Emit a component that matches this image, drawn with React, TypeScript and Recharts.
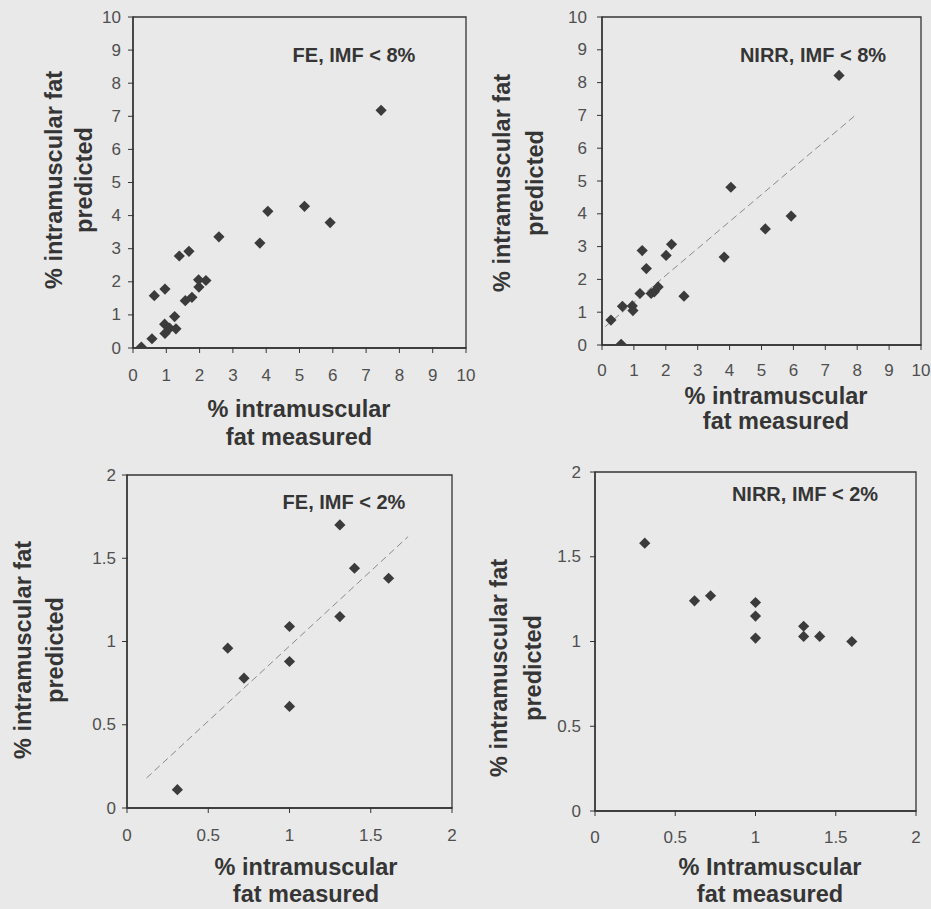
import React from 'react';
import { ScatterChart, Scatter, XAxis, YAxis, ReferenceArea, ReferenceLine } from 'recharts';

// ---------- data ----------
// Panel: FE, IMF < 8%
const fe8Measured = [0.25, 0.57, 0.64, 0.96, 0.95, 0.96, 1.1, 1.25, 1.29, 1.39, 1.68, 1.57, 1.77, 1.98, 1.97, 2.19, 2.58, 3.81, 4.05, 5.15, 5.92, 7.45];
const fe8Predicted = [0.03, 0.28, 1.58, 1.78, 0.72, 0.44, 0.6, 0.95, 0.58, 2.78, 2.92, 1.43, 1.53, 1.84, 2.06, 2.04, 3.36, 3.17, 4.13, 4.28, 3.79, 7.18];

// Panel: NIRR, IMF < 8%
const nirr8Measured = [0.28, 0.6, 0.64, 0.95, 0.97, 1.26, 1.39, 1.19, 1.54, 1.64, 1.76, 2.01, 2.18, 2.57, 3.83, 4.04, 5.12, 5.93, 7.43];
const nirr8Predicted = [0.76, 0.02, 1.18, 1.19, 1.05, 2.88, 2.33, 1.57, 1.57, 1.62, 1.77, 2.73, 3.07, 1.49, 2.68, 4.81, 3.54, 3.93, 8.22];
const nirr8TrendX = [0.1, 8.0];
const nirr8TrendY = [0.56, 7.05];

// Panel: FE, IMF < 2%
const fe2Measured = [0.31, 0.62, 0.72, 1.0, 1.0, 1.0, 1.31, 1.31, 1.4, 1.61];
const fe2Predicted = [0.11, 0.96, 0.78, 1.09, 0.88, 0.61, 1.7, 1.15, 1.44, 1.38];
const fe2TrendX = [0.12, 1.73];
const fe2TrendY = [0.18, 1.63];

// Panel: NIRR, IMF < 2%
const nirr2Measured = [0.31, 0.62, 0.72, 1.0, 1.0, 1.0, 1.3, 1.3, 1.4, 1.6];
const nirr2Predicted = [1.58, 1.24, 1.27, 1.23, 1.15, 1.02, 1.09, 1.03, 1.03, 1.0];

// ticks
const ticks10 = [0, 1, 2, 3, 4, 5, 6, 7, 8, 9, 10];
const ticks2 = [0, 0.5, 1, 1.5, 2];

// titles
const panelTitles = ['FE, IMF < 8%', 'NIRR, IMF < 8%', 'FE, IMF < 2%', 'NIRR, IMF < 2%'];
const yTitleLines = ['% intramuscular fat', 'predicted'];
const xTitleLines = ['% intramuscular', 'fat measured'];
const xTitleLines4 = ['% Intramuscular', 'fat measured'];

const zip = (xs: number[], ys: number[]) => xs.map((x, i) => ({ x, y: ys[i] }));

// ---------- styling ----------
const FONT = '"Liberation Sans", Arial, Helvetica, sans-serif';
const INK = '#353535';
const TICK_INK = '#4f4f4f';
const BG = '#e9e9e9';

const Diamond = (props: any) => {
  const { cx, cy } = props;
  if (cx == null || cy == null) return null;
  const r = 5.6;
  return (
    <polygon
      points={`${cx},${cy - r} ${cx + r},${cy} ${cx},${cy + r} ${cx - r},${cy}`}
      fill="#3b3b3b"
    />
  );
};

const XTick = (props: any) => {
  const { x, y, payload, gap } = props;
  return (
    <g>
      <line x1={x} x2={x} y1={y - 3} y2={y + 3} stroke={INK} strokeWidth={1} />
      <text x={x} y={y + gap} textAnchor="middle" dominantBaseline="central" fontFamily={FONT} fontSize={17} fill={TICK_INK}>
        {String(payload.value)}
      </text>
    </g>
  );
};

const YTick = (props: any) => {
  const { x, y, payload, gap } = props;
  return (
    <g>
      <line x1={x - 3} x2={x + 3} y1={y} y2={y} stroke={INK} strokeWidth={1} />
      <text x={x - gap} y={y} textAnchor="end" dominantBaseline="central" fontFamily={FONT} fontSize={17} fill={TICK_INK}>
        {String(payload.value)}
      </text>
    </g>
  );
};

type PanelProps = {
  left: number; top: number; w: number; h: number;
  data: { x: number; y: number }[];
  domain: [number, number];
  ticks: number[];
  trend?: { x: number; y: number }[];
  xGap: number; yGap: number;
};

const ML = 70, MT = 10, MR = 10, XH = 40;

function Panel({ left, top, w, h, data, domain, ticks, trend, xGap, yGap }: PanelProps) {
  return (
    <div style={{ position: 'absolute', left: left - ML, top: top - MT }}>
      <ScatterChart width={w + ML + MR} height={h + MT + XH} margin={{ top: MT, right: MR, left: 0, bottom: 0 }}>
        <XAxis
          type="number" dataKey="x" domain={domain} ticks={ticks} interval={0} height={XH}
          tickSize={0} tickLine={false} allowDataOverflow
          axisLine={{ stroke: INK, strokeWidth: 1.4 }}
          tick={(p: any) => <XTick {...p} gap={xGap} />}
        />
        <YAxis
          type="number" dataKey="y" domain={domain} ticks={ticks} interval={0} width={ML}
          tickSize={0} tickLine={false} allowDataOverflow
          axisLine={{ stroke: INK, strokeWidth: 1.4 }}
          tick={(p: any) => <YTick {...p} gap={yGap} />}
        />
        <ReferenceArea x1={domain[0]} x2={domain[1]} y1={domain[0]} y2={domain[1]} fill="none" stroke={INK} strokeWidth={1.3} />
        {trend ? (
          <ReferenceLine segment={trend} stroke="#8a8a8a" strokeWidth={1} strokeDasharray="7 4" />
        ) : null}
        <Scatter data={data} shape={Diamond} isAnimationActive={false} />
      </ScatterChart>
    </div>
  );
}

function YTitle({ x, y, pitch }: { x: number; y: number; pitch: number }) {
  return (
    <g>
      {yTitleLines.map((t, i) => (
        <text key={i} transform={`translate(${x + i * pitch},${y}) rotate(-90)`} textAnchor="middle"
          fontFamily={FONT} fontWeight="bold" fontSize={23.5} fill={INK}>{t}</text>
      ))}
    </g>
  );
}

function XTitle({ x, y, pitch, lines }: { x: number; y: number; pitch: number; lines: string[] }) {
  return (
    <g>
      {lines.map((t, i) => (
        <text key={i} x={x} y={y + i * pitch} textAnchor="middle"
          fontFamily={FONT} fontWeight="bold" fontSize={23.5} fill={INK}>{t}</text>
      ))}
    </g>
  );
}

function PTitle({ x, y, text }: { x: number; y: number; text: string }) {
  return (
    <text x={x} y={y} textAnchor="middle" fontFamily={FONT} fontWeight="bold" fontSize={20} fill={INK}>{text}</text>
  );
}

export default function App() {
  return (
    <div style={{ position: 'absolute', left: 0, top: 0, width: 931, height: 909, background: BG, overflow: 'hidden' }}>
      <Panel left={133} top={17} w={333} h={331} data={zip(fe8Measured, fe8Predicted)} domain={[0, 10]} ticks={ticks10} xGap={25} yGap={10} />
      <Panel left={602} top={17} w={319} h={328} data={zip(nirr8Measured, nirr8Predicted)} domain={[0, 10]} ticks={ticks10}
        trend={zip(nirr8TrendX, nirr8TrendY)} xGap={23} yGap={13} />
      <Panel left={127} top={475} w={325} h={333} data={zip(fe2Measured, fe2Predicted)} domain={[0, 2]} ticks={ticks2}
        trend={zip(fe2TrendX, fe2TrendY)} xGap={25} yGap={9} />
      <Panel left={595} top={472} w={321} h={339} data={zip(nirr2Measured, nirr2Predicted)} domain={[0, 2]} ticks={ticks2} xGap={24} yGap={12} />
      <svg width={931} height={909} style={{ position: 'absolute', left: 0, top: 0, pointerEvents: 'none' }}>
        <PTitle x={354} y={62} text={panelTitles[0]} />
        <PTitle x={813} y={62} text={panelTitles[1]} />
        <PTitle x={344} y={509} text={panelTitles[2]} />
        <PTitle x={805} y={501} text={panelTitles[3]} />
        <YTitle x={62} y={180} pitch={30} />
        <YTitle x={510} y={183} pitch={33} />
        <YTitle x={31} y={650} pitch={32} />
        <YTitle x={507} y={668} pitch={34} />
        <XTitle x={299} y={417} pitch={28} lines={xTitleLines} />
        <XTitle x={776} y={404} pitch={25} lines={xTitleLines} />
        <XTitle x={306} y={875} pitch={27} lines={xTitleLines} />
        <XTitle x={770} y={875} pitch={27} lines={xTitleLines4} />
      </svg>
    </div>
  );
}
